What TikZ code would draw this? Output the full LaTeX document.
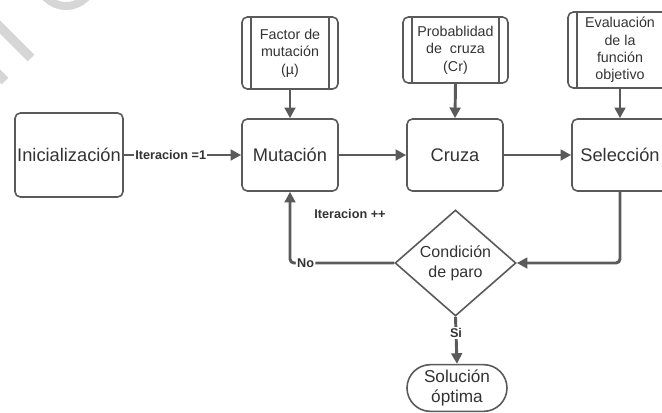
\documentclass[tikz,border=0pt]{standalone}
\usepackage{fontspec}
\setmainfont{Liberation Sans}
\usetikzlibrary{arrows.meta,shapes.geometric,shapes.misc}
\definecolor{linegray}{HTML}{5A5A5A}
\definecolor{textgray}{HTML}{333333}
\definecolor{markgray}{HTML}{D6D6D6}
\tikzset{
  box/.style={draw=linegray,line width=1.2pt,rounded corners=4pt,text=textgray,align=center,
    inner sep=0pt,font=\fontsize{13.7}{16}\selectfont},
  param/.style={box,font=\fontsize{10.7}{13}\selectfont},
  flow/.style={draw=linegray,line width=2.2pt,-{Triangle[length=8pt,width=8pt]}},
  tag/.style={fill=white,text=textgray,inner sep=1pt,font=\fontsize{9.5}{11}\bfseries\selectfont}
}
\begin{document}
\begin{tikzpicture}[x=0.75pt,y=-0.75pt]
\clip (0,0) rectangle (662,412);
\draw[markgray,line width=6pt] (66,-22) circle [radius=28];
\draw[markgray,line width=7pt] (-5,22) -- (31,58);
\draw[markgray,line width=7pt] (-10,66) -- (5,81);
\node[box,minimum width=81pt,minimum height=63pt] (init) at (69,155) {Inicialización};
\node[box,minimum width=72pt,minimum height=54pt] (mut) at (290,155) {Mutación};
\node[box,minimum width=72pt,minimum height=54pt] (cru) at (455,155) {Cruza};
\node[box,minimum width=72pt,minimum height=54pt] (sel) at (620,155) {Selección};
\node[param,minimum width=72pt,minimum height=54pt] (fac) at (290,53) {Factor de\\mutación\\(µ)};
\node[param,minimum width=78.75pt,minimum height=49.5pt] (prob) at (455.5,50) {Probablidad\\de\ \ cruza\\(Cr)};
\node[param,minimum width=78pt,minimum height=57pt] (eval) at (620,50) {Evaluación\\de la\\función\\objetivo};
\foreach \n in {fac,prob,eval}
  \draw[linegray,line width=1.2pt] ([xshift=7.5pt]\n.north west) -- ([xshift=7.5pt]\n.south west)
    ([xshift=-7.5pt]\n.north east) -- ([xshift=-7.5pt]\n.south east);
\node[draw=linegray,line width=1.2pt,diamond,aspect=1.14,minimum width=90.75pt,minimum height=79.5pt,
  inner sep=0pt,align=center,text=textgray,font=\fontsize{12}{15}\selectfont] (cond) at (455.5,263) {Condición\\de paro};
\node[draw=linegray,line width=1.2pt,rounded rectangle,minimum width=75pt,minimum height=35pt,
  inner sep=0pt,align=center,text=textgray,font=\fontsize{12.9}{15}\selectfont] (sol) at (457,388) {Solución\\óptima};
\node[tag] (iter) at (350,214) {Iteracion ++};
\draw[flow] (init) -- node[tag,pos=0.4] {Iteracion =1} (mut);
\draw[flow] (mut) -- (cru);
\draw[flow] (cru) -- (sel);
\foreach \a/\b in {fac/mut,prob/cru,eval/sel}
  \draw[flow] (\a.south) -- (\b.north);
\draw[flow,rounded corners=3pt] (sel.south) |- (cond.east);
\draw[flow,rounded corners=3pt] (cond.west) -- node[tag,pos=0.85] {No} (cond.west -| mut.south) -- (mut.south);
\draw[flow] (cond.south) -- node[tag,pos=0.35] {Si} (sol.north);
\end{tikzpicture}
\end{document}
